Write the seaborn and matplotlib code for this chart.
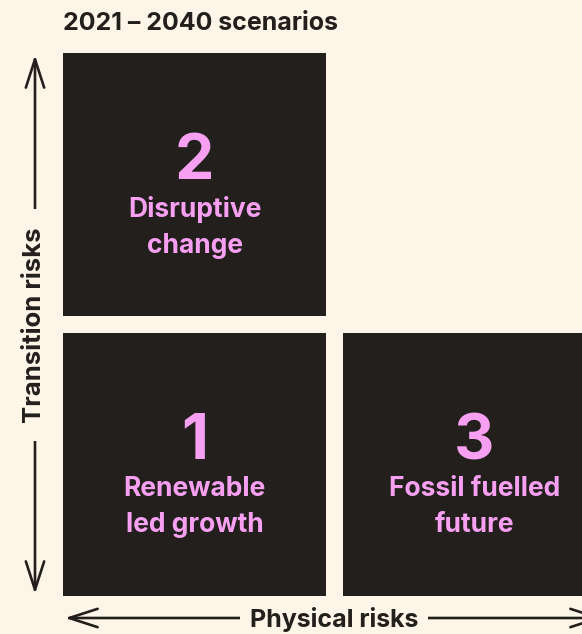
import matplotlib
matplotlib.use("Agg")
import matplotlib.pyplot as plt
import seaborn as sns

# scenario data
scenario_ids = ["1", "2", "3"]
scenario_names = ["Renewable\nled growth", "Disruptive\nchange", "Fossil fuelled\nfuture"]
physical_level = [0, 0, 1]     # column in the grid
transition_level = [0, 1, 0]   # row in the grid
title = "2021 \u2013 2040 scenarios"
x_label = "Physical risks"
y_label = "Transition risks"

BG = "#fdf5e7"
DARK = "#231f1c"
PINK = "#f7a0f2"

sns.set_theme(style="white")
plt.rcParams["font.family"] = ["Inter", "DejaVu Sans"]

W, H = 582, 634
fig = plt.figure(figsize=(W / 100, H / 100), dpi=100, facecolor=BG)

# overlay in pixel coordinates for title and axis arrows
ov = fig.add_axes([0, 0, 1, 1])
ov.set_xlim(0, W)
ov.set_ylim(H, 0)
ov.axis("off")
ov.set_facecolor(BG)

# grid of scenario squares: pitch 280 px, square 263 px
size = 263 / 280
ax = fig.add_axes([63 / W, (H - 596) / H, 543 / W, 543 / H])
ax.set_xlim(0, 1 + size)
ax.set_ylim(0, 1 + size)
ax.axis("off")
ax.patch.set_alpha(0)

ax.bar(physical_level, size, width=size, bottom=transition_level,
       align="edge", color=DARK, linewidth=0)

for sid, name, px, ty in zip(scenario_ids, scenario_names, physical_level, transition_level):
    cx = px + size / 2
    cy = ty + size / 2
    ax.text(cx, cy + 22 / 280, sid, ha="center", va="center",
            color=PINK, fontsize=45, fontweight="bold")
    ax.text(cx, cy - 43 / 280, name, ha="center", va="center",
            color=PINK, fontsize=19, fontweight="bold", linespacing=1.5)

ov.text(63, 24, title, ha="left", va="center", color=DARK,
        fontsize=18, fontweight="bold")

arrow_kw = dict(arrowstyle="<->,head_length=1.7,head_width=0.55",
                color=DARK, lw=1.9, shrinkA=0, shrinkB=0)
ov.annotate("", xy=(35, 55), xytext=(35, 594), arrowprops=arrow_kw,
            annotation_clip=False)
ov.annotate("", xy=(65, 618), xytext=(603, 618), arrowprops=arrow_kw,
            annotation_clip=False)

ov.text(35, 325, y_label, rotation=90, ha="center", va="center", color=DARK,
        fontsize=18.5, fontweight="bold",
        bbox=dict(boxstyle="square,pad=0.7", fc=BG, ec="none"))
ov.text(334, 619, x_label, ha="center", va="center", color=DARK,
        fontsize=18, fontweight="bold",
        bbox=dict(boxstyle="square,pad=0.4", fc=BG, ec="none"))

fig.savefig("out.png", dpi=100, facecolor=BG)
